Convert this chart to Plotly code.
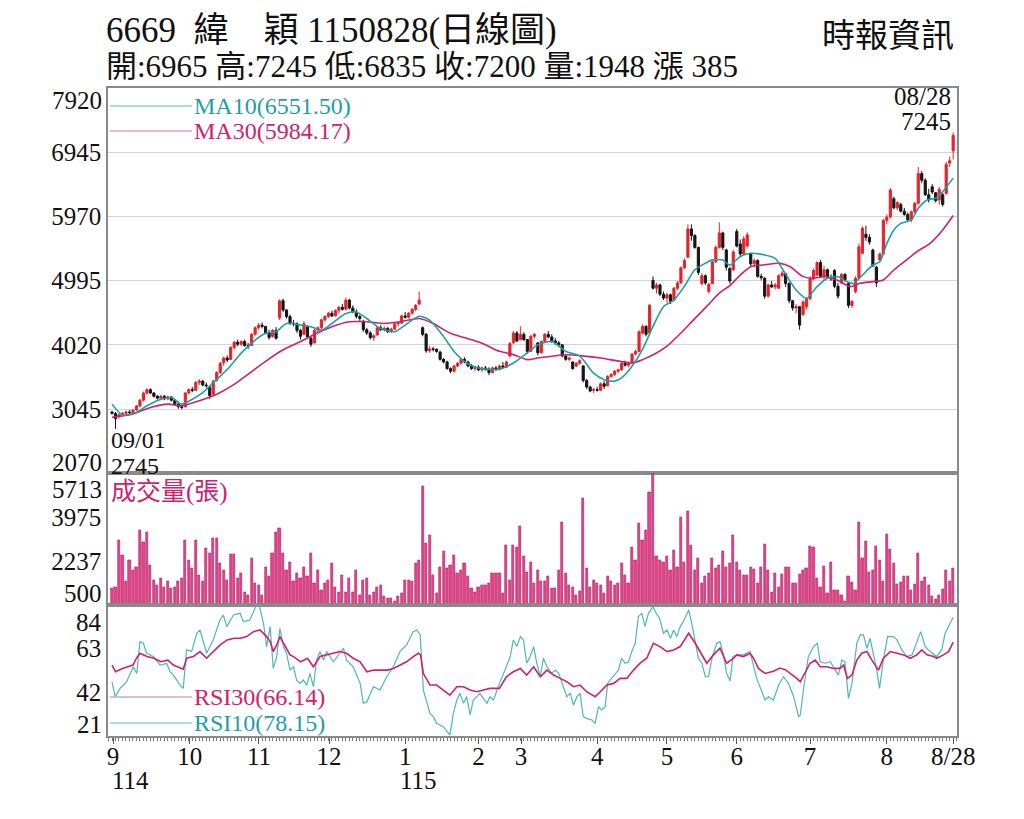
import plotly.graph_objects as go

# ---------------- data ----------------
opens = [3000, 2980, 2930, 2960, 2980, 3000, 2990, 3030, 3090, 3180,
         3290, 3340, 3290, 3240, 3210, 3240, 3200, 3230, 3180, 3120,
         3080, 3080, 3290, 3340, 3330, 3450, 3470, 3410, 3380, 3270,
         3480, 3600, 3750, 3820, 3800, 3980, 4060, 4030, 4070, 4010,
         4010, 4180, 4280, 4320, 4300, 4200, 4150, 4240, 4430, 4690,
         4550, 4450, 4350, 4340, 4240, 4180, 4300, 4120, 4050, 4240,
         4280, 4400, 4450, 4500, 4460, 4540, 4590, 4560, 4700, 4580,
         4520, 4450, 4380, 4250, 4200, 4130, 4170, 4280, 4250, 4270,
         4220, 4260, 4340, 4350, 4460, 4440, 4500, 4560, 4640, 4280,
         4180, 3930, 3960, 3950, 3910, 3800, 3760, 3660, 3620, 3700,
         3740, 3800, 3760, 3700, 3660, 3680, 3640, 3670, 3650, 3600,
         3670, 3650, 3700, 3680, 3850, 4050, 4200, 4100, 4180, 4100,
         3920, 4150, 4050, 3900, 4070, 4180, 4140, 4080, 4050, 4020,
         3850, 3800, 3760, 3700, 3740, 3700, 3480, 3380, 3330, 3340,
         3330, 3430, 3400, 3540, 3570, 3620, 3640, 3740, 3710, 3750,
         3880, 3920, 4200, 4300, 4200, 5000, 4880, 4930, 4790, 4730,
         4780, 4700, 4880, 4960, 5190, 5350, 5780, 5680, 5500, 4950,
         5070, 4830, 4950, 5280, 5500, 5720, 5460, 5180, 5160, 5740,
         5550, 5400, 5520, 5400, 5250, 5300, 5060, 5030, 4760, 4930,
         4900, 4880, 5070, 5100, 4950, 4690, 4580, 4600, 4480, 4600,
         4720, 5020, 5080, 5270, 5060, 5160, 5050, 5150, 4910, 4960,
         5090, 4950, 4620, 4830, 5030, 5410, 5700, 5650, 5460, 5200,
         5310, 5400, 5910, 5960, 6240, 6100, 6150, 6050, 6000, 5920,
         6040, 6170, 6620, 6520, 6300, 6420, 6330, 6220, 6300, 6320,
         6780, 6965]
highs = [3020, 3000, 2980, 3000, 3020, 3030, 3040, 3110, 3200, 3310,
         3360, 3360, 3300, 3260, 3260, 3260, 3250, 3240, 3200, 3160,
         3110, 3300, 3360, 3380, 3470, 3500, 3490, 3450, 3400, 3490,
         3620, 3760, 3840, 3860, 4000, 4080, 4100, 4090, 4100, 4050,
         4200, 4300, 4350, 4360, 4310, 4250, 4260, 4290, 4710, 4720,
         4560, 4480, 4400, 4360, 4260, 4380, 4320, 4140, 4260, 4300,
         4420, 4470, 4520, 4540, 4560, 4610, 4640, 4740, 4720, 4620,
         4560, 4480, 4400, 4280, 4230, 4180, 4300, 4320, 4300, 4290,
         4280, 4360, 4380, 4480, 4520, 4520, 4580, 4640, 4830, 4300,
         4200, 4000, 3990, 3970, 3930, 3820, 3780, 3680, 3720, 3760,
         3820, 3830, 3780, 3730, 3700, 3710, 3690, 3700, 3680, 3690,
         3700, 3720, 3760, 3780, 4060, 4230, 4230, 4300, 4210, 4110,
         4170, 4200, 4060, 4090, 4200, 4230, 4180, 4120, 4080, 4030,
         3880, 3840, 3770, 3760, 3800, 3710, 3500, 3400, 3370, 3380,
         3450, 3470, 3560, 3590, 3640, 3660, 3760, 3780, 3760, 3900,
         3950, 4240, 4330, 4320, 4640, 5060, 4960, 4950, 4830, 4810,
         4800, 4900, 4990, 5210, 5330, 5850, 5850, 5700, 5510, 5110,
         5090, 4960, 5300, 5530, 5880, 5740, 5480, 5200, 5460, 5780,
         5620, 5670, 5730, 5420, 5330, 5320, 5100, 5050, 4950, 4990,
         4960, 5090, 5140, 5110, 4970, 4700, 4640, 4610, 4700, 4740,
         5060, 5180, 5290, 5310, 5220, 5180, 5090, 5170, 4960, 5110,
         5110, 4970, 4700, 5060, 5560, 5820, 5830, 5700, 5480, 5220,
         5420, 5930, 6000, 6400, 6270, 6200, 6180, 6100, 6030, 6060,
         6190, 6720, 6660, 6550, 6390, 6460, 6340, 6420, 6330, 6800,
         6880, 7245]
lows = [2960, 2745, 2900, 2930, 2950, 2970, 2970, 3020, 3070, 3160,
        3260, 3270, 3220, 3190, 3190, 3180, 3180, 3160, 3100, 3050,
        3040, 3070, 3270, 3300, 3320, 3410, 3390, 3370, 3200, 3260,
        3460, 3580, 3700, 3760, 3790, 3950, 4000, 4000, 3990, 3960,
        4000, 4160, 4250, 4270, 4180, 4100, 4130, 4100, 4400, 4520,
        4420, 4320, 4300, 4200, 4100, 4170, 4120, 3990, 4040, 4200,
        4260, 4370, 4430, 4440, 4450, 4500, 4540, 4550, 4560, 4500,
        4420, 4380, 4220, 4170, 4100, 4080, 4160, 4230, 4220, 4200,
        4200, 4240, 4300, 4340, 4420, 4420, 4480, 4530, 4620, 4150,
        3900, 3900, 3920, 3900, 3780, 3740, 3640, 3590, 3600, 3680,
        3720, 3740, 3680, 3640, 3620, 3620, 3610, 3630, 3560, 3590,
        3620, 3630, 3660, 3670, 3830, 4040, 4060, 4090, 4080, 3880,
        3910, 4120, 3860, 3890, 4050, 4120, 4050, 4020, 3990, 3830,
        3780, 3770, 3640, 3680, 3720, 3450, 3350, 3300, 3290, 3310,
        3320, 3350, 3390, 3520, 3550, 3590, 3630, 3690, 3680, 3740,
        3860, 3910, 4180, 4150, 4190, 4860, 4800, 4760, 4700, 4660,
        4640, 4680, 4850, 4950, 5170, 5340, 5600, 5480, 5080, 4920,
        4930, 4800, 4940, 5260, 5480, 5460, 5150, 4950, 5140, 5500,
        5350, 5380, 5500, 5200, 5200, 5040, 5000, 4720, 4740, 4880,
        4860, 4870, 5050, 4900, 4650, 4540, 4500, 4250, 4460, 4560,
        4700, 5000, 5060, 5040, 5000, 5020, 4990, 4880, 4720, 4940,
        4980, 4580, 4580, 4800, 5010, 5400, 5600, 5540, 5200, 4900,
        5290, 5380, 5850, 5940, 6080, 6070, 6030, 5980, 5890, 5880,
        6020, 6150, 6480, 6280, 6180, 6310, 6180, 6150, 6120, 6300,
        6720, 6835]
closes = [2980, 2900, 2960, 2980, 3000, 2990, 3030, 3090, 3180, 3290,
          3340, 3290, 3240, 3210, 3240, 3200, 3230, 3180, 3120, 3080,
          3070, 3290, 3340, 3330, 3450, 3470, 3410, 3400, 3250, 3470,
          3600, 3740, 3820, 3790, 3980, 4060, 4030, 4070, 4010, 4000,
          4180, 4280, 4320, 4300, 4200, 4130, 4240, 4120, 4690, 4550,
          4450, 4350, 4340, 4240, 4150, 4340, 4140, 4030, 4240, 4280,
          4400, 4450, 4500, 4460, 4540, 4590, 4560, 4700, 4580, 4520,
          4450, 4420, 4250, 4200, 4130, 4160, 4280, 4250, 4270, 4220,
          4260, 4340, 4350, 4460, 4440, 4500, 4560, 4620, 4700, 4180,
          3930, 3960, 3950, 3920, 3800, 3760, 3660, 3620, 3700, 3740,
          3800, 3760, 3700, 3660, 3680, 3640, 3670, 3650, 3600, 3670,
          3650, 3700, 3680, 3760, 4040, 4200, 4080, 4180, 4100, 3920,
          4150, 4180, 3900, 4070, 4180, 4140, 4080, 4050, 4020, 3850,
          3800, 3820, 3660, 3740, 3780, 3480, 3380, 3320, 3340, 3330,
          3430, 3390, 3540, 3570, 3620, 3640, 3740, 3710, 3750, 3880,
          3920, 4220, 4300, 4180, 4620, 4880, 4930, 4790, 4730, 4780,
          4680, 4880, 4960, 5190, 5300, 5780, 5680, 5500, 5120, 5070,
          4960, 4940, 5280, 5500, 5720, 5500, 5200, 4990, 5430, 5520,
          5400, 5630, 5690, 5250, 5300, 5060, 5040, 4760, 4930, 4900,
          4930, 5070, 5110, 4950, 4690, 4580, 4600, 4320, 4670, 4720,
          5020, 5150, 5270, 5060, 5160, 5050, 5020, 4910, 4760, 5090,
          5000, 4620, 4680, 5030, 5510, 5790, 5650, 5580, 5220, 4960,
          5400, 5910, 5960, 6370, 6100, 6180, 6050, 6000, 5920, 6040,
          6170, 6620, 6520, 6300, 6220, 6340, 6210, 6380, 6150, 6760,
          6815, 7200]
volumes = [1160, 1220, 3070, 2470, 1420, 2270, 1880, 2010, 3460, 2990,
           3360, 2080, 1490, 1290, 1550, 1220, 1420, 1160, 1220, 1420,
           1550, 3070, 2270, 1950, 3070, 1680, 1420, 2730, 2530, 3130,
           3130, 2150, 1880, 1490, 2510, 2510, 1550, 1750, 1020, 900,
           2340, 1360, 1290, 900, 2010, 1620, 2530, 3390, 3520, 2530,
           1880, 2210, 1420, 1750, 1550, 2010, 1620, 2530, 1360, 1880,
           1090, 1360, 1490, 2150, 1220, 1020, 1680, 1020, 1550, 1020,
           1880, 900, 1490, 1550, 900, 1020, 1220, 1290, 830, 760,
           760, 640, 830, 960, 1490, 1490, 1420, 2150, 2270, 5210,
           2930, 3260, 1680, 960, 2010, 2610, 1950, 2080, 2470, 1750,
           1880, 2150, 1620, 1160, 1020, 1220, 1290, 1290, 1360, 1750,
           1750, 1750, 960, 2870, 1490, 2870, 2800, 3600, 2410, 1810,
           2210, 1360, 1890, 1420, 1420, 1620, 1160, 1160, 1890, 3790,
           1750, 1290, 1220, 900, 1030, 4710, 1950, 1220, 1490, 1360,
           1290, 960, 1620, 1420, 1290, 1360, 2150, 1690, 1360, 2800,
           2280, 3720, 3070, 3460, 4970, 5713, 2410, 2280, 2210, 2410,
           1890, 2670, 2010, 3990, 2210, 4190, 2870, 1890, 2350, 1360,
           1620, 1750, 2350, 1950, 2080, 2610, 2010, 2150, 3250, 2210,
           1890, 1690, 1690, 2010, 1910, 1360, 2010, 2910, 1890, 990,
           1750, 1220, 1720, 1980, 1980, 1360, 1360, 1720, 1860, 1950,
           2830, 2780, 1550, 1220, 2040, 960, 2210, 1070, 1070, 900,
           640, 1620, 1380, 1090, 3790, 2350, 3030, 1780, 1890, 2830,
           2260, 1420, 3310, 2700, 2170, 1320, 1380, 1620, 1640, 1090,
           1330, 2540, 1420, 1580, 1270, 860, 740, 900, 1130, 1860,
           1450, 1948]

ma10_idx = [0, 3, 7, 10, 14, 17, 20, 23, 26, 29, 33, 37, 40.5, 44, 47, 50, 54, 57,
            60, 63, 67, 70, 73, 77, 81, 84, 88, 91, 95, 98, 101.6, 105, 111, 115,
            119, 122, 126, 130, 134, 138, 141, 144, 146, 149, 152, 155, 158, 161,
            164, 167, 170, 172, 175, 177, 180, 183, 187, 190, 192, 196, 199, 202,
            205, 208, 210.5, 212.5, 215, 218, 220, 222, 224, 226, 229, 231, 233.5,
            236, 238, 241]
ma10_val = [3120, 2955, 2995, 3095, 3195, 3220, 3120, 3195, 3295, 3445, 3645, 3895,
            4070, 4195, 4220, 4345, 4320, 4295, 4245, 4345, 4495, 4520, 4420, 4270,
            4220, 4320, 4455, 4395, 4145, 3920, 3745, 3670, 3650, 3745, 3900, 4020,
            4070, 3920, 3850, 3590, 3490, 3470, 3520, 3695, 3950, 4300, 4600, 4700,
            4910, 5160, 5260, 5310, 5310, 5230, 5360, 5410, 5385, 5334, 5180, 4853,
            4727, 4904, 5030, 5055, 4980, 4950, 5080, 5233, 5283, 5560, 5764, 5865,
            5916, 6093, 6220, 6245, 6346, 6551.5]
ma30_idx = [0, 6, 11, 16, 20, 25, 30, 35, 39.5, 44, 49, 54, 58.6, 63, 68, 73, 78,
            82.5, 88, 92, 97, 101.6, 106, 111, 115, 119, 122, 130, 136, 140, 145.6,
            149, 152, 156, 159, 163, 166.6, 170.4, 174, 177, 180, 183, 186.6, 191.4,
            194.3, 198, 201, 204, 207.7, 211.5, 214.3, 218, 221, 224, 227, 230.6,
            234.4, 238, 241]
ma30_val = [2920, 2970, 3070, 3120, 3095, 3170, 3270, 3420, 3595, 3770, 3945, 4070,
            4195, 4295, 4370, 4370, 4345, 4370, 4420, 4345, 4195, 4120, 4045, 3922,
            3872, 3796, 3820, 3870, 3846, 3820, 3770, 3745, 3796, 3897, 4000, 4200,
            4400, 4604, 4806, 4920, 5080, 5207, 5233, 5258, 5207, 5056, 5030, 5055,
            5005, 4904, 4955, 4980, 5005, 5157, 5283, 5435, 5562, 5764, 5984.17]

rsi30_idx = [0, 1, 3, 6, 7, 8, 10, 12, 14, 16, 17.6, 19.5, 20.4, 21.4, 23.3, 25.2,
             27.1, 29, 31, 33, 35, 36.7, 38.6, 40.5, 42.4, 44.3, 45.3, 46.2, 47.2,
             48.1, 49.1, 50, 51, 52, 54, 56, 57.7, 59.6, 61.5, 63.4, 65.3, 67.2,
             69.1, 71.1, 73, 75, 77, 79, 80.6, 82.5, 84.4, 86.3, 87.8, 88.4, 89.2,
             91.1, 93, 94.9, 96.8, 98.8, 100.7, 102.6, 104.5, 106.4, 108.3, 110.2,
             111, 113, 115, 117, 118.8, 120.8, 122.7, 124.6, 126.5, 128.4, 130.3,
             132.2, 134.1, 136, 138.4, 139.9, 141.8, 143.7, 145.6, 147.5, 149.4,
             151.3, 153.2, 155.1, 157, 159, 160.9, 162.8, 165.2, 167.1, 168.5,
             170.4, 172.3, 174.2, 176.1, 178.1, 179, 180.9, 182.8, 183.8, 185.2,
             187.1, 189.5, 191.4, 192.9, 194.3, 196.2, 197.2, 198.6, 200, 201.5,
             202.9, 204.8, 206.7, 208.6, 209.6, 210.7, 212, 213.4, 214.8, 216.3,
             217.7, 219.6, 221, 223, 224.9, 226.8, 228.7, 230.6, 232, 233.5, 235.4,
             236.3, 238.2, 239.7, 241]
rsi30_val = [55.1, 51.9, 53.5, 55.1, 58.4, 60.8, 59.2, 58.4, 56.7, 57.5, 55.1, 53.5,
             53.1, 58.4, 59.2, 61.6, 58.4, 61.6, 64.8, 67.2, 68.0, 68.0, 68.8, 71.2,
             72.0, 68.8, 66.4, 61.6, 64.8, 68.8, 65.6, 63.2, 60.0, 59.2, 56.7, 58.4,
             54.3, 59.2, 60.0, 60.8, 61.6, 60.8, 58.4, 56.7, 51.9, 52.7, 52.7, 52.7,
             53.5, 55.1, 56.7, 59.2, 60.8, 60.0, 51.1, 45.5, 45.5, 43.1, 40.7, 44.7,
             44.7, 43.1, 42.3, 43.1, 43.9, 43.9, 43.9, 49.5, 51.9, 53.5, 50.3, 54.3,
             49.5, 52.7, 50.3, 48.7, 47.1, 44.7, 45.5, 42.3, 39.9, 42.3, 45.5, 46.3,
             48.7, 48.7, 52.7, 56.0, 58.4, 65.6, 64.0, 61.6, 62.4, 64.0, 70.4, 65.6,
             61.6, 56.0, 60.0, 63.2, 56.0, 58.4, 60.0, 59.2, 60.8, 58.4, 53.5, 51.1,
             52.1, 53.7, 52.9, 51.3, 48.7, 47.1, 51.3, 56.0, 57.5, 54.3, 54.3, 53.5,
             53.5, 55.1, 48.7, 50.3, 57.5, 60.8, 61.6, 57.5, 52.7, 58.4, 61.6, 60.8,
             60.0, 58.4, 60.0, 62.4, 60.0, 59.2, 58.4, 60.0, 61.6, 66.14]

rsi10_idx = [0, 0.9, 2.3, 4.2, 6.1, 7.1, 8, 9, 9.9, 11.8, 13.8, 15.7, 16.6, 17.6,
             19.5, 20.4, 21.4, 22.8, 24.3, 25.2, 27.1, 29, 30.9, 31.9, 32.9, 34.8,
             36.7, 37.6, 39.5, 41, 41.9, 43.4, 44.3, 45.3, 46.2, 47.2, 48.1, 49.1,
             50, 51, 52, 52.9, 53.9, 54.8, 55.8, 56.7, 57.7, 58.6, 59.6, 60.6, 61.5,
             63.4, 65.3, 66.3, 67.2, 69.1, 71.1, 72, 73, 74.9, 76.8, 78.7, 80.6,
             82.5, 84.4, 86.3, 87.3, 88.3, 89.2, 90.2, 91.1, 92.1, 93, 94.9, 96.8,
             97.8, 98.8, 99.7, 100.7, 101.6, 102.6, 103.5, 105.4, 107.4, 108.3,
             109.3, 111, 112.6, 114.1, 115, 116, 117, 117.9, 118.8, 119.8, 120.8,
             121.7, 122.7, 123.6, 124.6, 126, 127, 128, 129.3, 130.3, 131.3, 132.2,
             133.2, 134.1, 135, 136, 137.5, 138.4, 139.4, 140.3, 141.3, 142, 142.7,
             144.2, 145.1, 146, 147, 148, 148.9, 149.9, 150.8, 151.8, 152.7, 153.7,
             155, 155.9, 156.9, 158, 159, 160, 160.9, 161.8, 162.8, 163.7, 165.2,
             166.1, 167.1, 168, 169, 170, 170.9, 172, 173.3, 174.2, 175.2, 176.1,
             177.1, 177.9, 179, 180.9, 182.8, 183.8, 184.7, 186.2, 187.1, 188.1,
             189.5, 191, 192.4, 193.8, 195.3, 196.7, 197.2, 198.1, 199.5, 201,
             202.1, 202.9, 204.3, 205.8, 207.2, 208.1, 209.1, 210, 211, 212, 213.4,
             214.4, 215.3, 216.3, 217.2, 218.2, 219.1, 219.9, 221, 222.2, 223.9,
             224.9, 226.3, 227.7, 229.2, 230.1, 231.7, 233, 234.4, 236.3, 237.7,
             238.7, 239.7, 241]
rsi10_val = [47.1, 39.9, 43.9, 47.1, 54.3, 51.1, 66.4, 65.6, 60.8, 59.2, 55.1, 55.9,
             51.9, 50.3, 45.5, 43.9, 62.4, 61.6, 70.4, 72.0, 60.8, 67.2, 76.8, 79.2,
             73.6, 79.2, 80.0, 76.0, 76.8, 83.2, 86.0, 75.2, 64.0, 73.6, 53.5, 59.2,
             72.8, 64.0, 60.8, 52.7, 54.3, 47.9, 46.3, 47.9, 45.5, 51.1, 44.7, 57.5,
             61.6, 57.5, 61.6, 56.7, 60.8, 63.2, 57.5, 54.3, 46.3, 36.7, 37.5, 44.7,
             43.1, 49.5, 54.3, 61.6, 64.8, 71.2, 72.0, 69.6, 43.1, 36.7, 31.9, 30.3,
             27.1, 25.5, 21.5, 31.9, 38.3, 41.5, 36.7, 39.9, 31.1, 38.3, 41.5, 36.7,
             39.9, 38.3, 46.3, 52.7, 59.2, 67.2, 64.0, 68.8, 67.2, 56.0, 59.2, 64.0,
             56.0, 49.5, 58.4, 54.3, 51.1, 52.7, 51.1, 44.7, 39.9, 41.5, 35.9, 39.9,
             41.5, 30.3, 29.5, 28.7, 27.1, 35.1, 33.5, 35.1, 46.3, 47.9, 51.1, 52.7,
             58.4, 56.0, 56.7, 61.6, 65.6, 78.4, 80.0, 73.6, 80.0, 83.2, 80.0, 77.6,
             70.4, 72.0, 68.0, 72.0, 68.8, 73.6, 76.0, 81.6, 75.2, 67.2, 58.4, 56.0,
             49.5, 49.5, 59.2, 65.6, 66.4, 60.0, 51.1, 47.5, 59.2, 60.0, 60.0, 61.6,
             54.3, 48.7, 42.3, 38.3, 39.9, 38.3, 45.5, 49.5, 46.3, 39.9, 30.3, 31.1,
             43.1, 59.2, 64.0, 65.6, 56.7, 56.0, 56.7, 53.1, 50.3, 57.5, 56.7, 39.1,
             46.3, 65.6, 69.6, 69.6, 63.2, 68.0, 60.0, 52.7, 43.9, 57.5, 68.8, 68.8,
             67.2, 62.4, 59.2, 60.0, 64.0, 71.2, 64.0, 61.6, 59.2, 62.4, 70.4, 73.6,
             78.15]

month_pos = [0.3, 22.3, 42.1, 62.2, 84, 105, 117.2, 139, 159, 179, 200, 222, 241]
month_txt = ["9", "10", "11", "12", "1", "2", "3", "4", "5", "6", "7", "8", "8/28"]

price_ticks = [3045, 4020, 4995, 5970, 6945]
vol_ticks = [2237, 3975]
rsi_ticks = [42, 63]

days = list(range(len(closes)))

# ---------------- styling ----------------
TEAL = "#1f9ea8"
MAG = "#d0206e"
SERIF = "Liberation Serif, Noto Sans CJK TC, serif"
AX = "#8a8a8a"

L, R, T, B = 108, 957, 88, 736
W, H = 1024, 819


def pxx(x):
    return (x - L) / (R - L)


def pxy(y):
    return (B - y) / (B - T)


fig = go.Figure()

fig.add_trace(go.Candlestick(
    x=days, open=opens, high=highs, low=lows, close=closes,
    increasing=dict(line=dict(color="#e5232b", width=1), fillcolor="#e5232b"),
    decreasing=dict(line=dict(color="#151515", width=1), fillcolor="#151515"),
    whiskerwidth=0, xaxis="x", yaxis="y", showlegend=False, hoverinfo="skip"))
fig.add_trace(go.Scatter(x=ma30_idx, y=ma30_val, mode="lines",
                         line=dict(color=MAG, width=1.6, shape="spline", smoothing=0.7),
                         xaxis="x", yaxis="y", showlegend=False))
fig.add_trace(go.Scatter(x=ma10_idx, y=ma10_val, mode="lines",
                         line=dict(color=TEAL, width=1.6, shape="spline", smoothing=0.7),
                         xaxis="x", yaxis="y", showlegend=False))

fig.add_trace(go.Bar(x=days, y=volumes, width=0.62,
                     marker=dict(color="#e4468b", line=dict(color="#b3135a", width=0.6)),
                     xaxis="x2", yaxis="y2", showlegend=False))

fig.add_trace(go.Scatter(x=rsi10_idx, y=rsi10_val, mode="lines",
                         line=dict(color="#4fb6bc", width=1.2),
                         xaxis="x3", yaxis="y3", showlegend=False))
fig.add_trace(go.Scatter(x=rsi30_idx, y=rsi30_val, mode="lines",
                         line=dict(color=MAG, width=1.6),
                         xaxis="x3", yaxis="y3", showlegend=False))

xr = [-1.15, 242.1]
d_price = [pxy(473.3), 1]
d_vol = [pxy(605), pxy(473.3)]
d_rsi = [0, pxy(605)]

common_x = dict(range=xr, showgrid=False, zeroline=False, showline=True, mirror=True,
                linecolor=AX, linewidth=1.5)
common_y = dict(zeroline=False, showline=True, mirror=True,
                linecolor=AX, linewidth=1.5, ticks="",
                tickfont=dict(family=SERIF, size=25, color="#111"))

fig.update_layout(
    width=W, height=H,
    margin=dict(l=L, r=W - R, t=T, b=H - B, pad=0),
    paper_bgcolor="white", plot_bgcolor="white",
    bargap=0, boxgap=0.12,
    xaxis=dict(**common_x, anchor="y", domain=[0, 1], showticklabels=False,
               rangeslider=dict(visible=False)),
    xaxis2=dict(**common_x, anchor="y2", domain=[0, 1], showticklabels=False, matches="x"),
    xaxis3=dict(**common_x, anchor="y3", domain=[0, 1], matches="x",
                tickmode="array", tickvals=month_pos, ticktext=month_txt,
                ticks="outside", ticklen=6, tickcolor="#555", tickwidth=1.2,
                ticklabelstandoff=-9,
                minor=dict(ticks="outside", dtick=1, tick0=0, ticklen=3,
                           tickcolor="#777", tickwidth=1),
                tickfont=dict(family=SERIF, size=25, color="#111")),
    yaxis=dict(**common_y, domain=d_price, range=[2070, 7920], tickmode="array",
               tickvals=price_ticks, showgrid=True, gridcolor="#d4d4d4", gridwidth=1),
    yaxis2=dict(**common_y, domain=d_vol, range=[500, 5713], tickmode="array",
                tickvals=vol_ticks, showgrid=False),
    yaxis3=dict(**common_y, domain=d_rsi, range=[21, 84], tickmode="array",
                tickvals=rsi_ticks, showgrid=False),
)

anns = []


def ann(text, x, y, size, color="#111", xanchor="left", yanchor="middle"):
    anns.append(dict(text=text, x=pxx(x), y=pxy(y), xref="paper", yref="paper",
                     xanchor=xanchor, yanchor=yanchor, showarrow=False,
                     font=dict(family=SERIF, size=size, color=color)))


# titles
ann("6669  緯　穎 1150828(日線圖)", 104, 30, 35)
ann("開:6965 高:7245 低:6835 收:7200 量:1948 漲 385", 104, 67, 31)
ann("時報資訊", 956, 36, 33, xanchor="right")
# edge tick labels
ann("7920", 104, 101, 25, xanchor="right")
ann("2070", 104, 462, 25, xanchor="right")
ann("5713", 104, 489, 25, xanchor="right")
ann("500", 104, 593, 25, xanchor="right")
ann("84", 104, 622, 25, xanchor="right")
ann("21", 104, 724, 25, xanchor="right")
# year labels
ann("114", 110, 780, 25)
ann("115", 398, 780, 25)
# price notes
ann("09/01", 109, 440, 24)
ann("2745", 109, 466, 24)
ann("08/28", 953, 96, 25, xanchor="right")
ann("7245", 953, 121, 25, xanchor="right")
# legends
ann("MA10(6551.50)", 192, 106, 24, TEAL)
ann("MA30(5984.17)", 192, 131, 24, MAG)
ann("成交量(張)", 109, 492, 25, MAG)
ann("RSI30(66.14)", 192, 697, 24, MAG)
ann("RSI10(78.15)", 192, 723, 24, TEAL)
fig.update_layout(annotations=anns)

shapes = []
for yy, col in [(106, "#8fd0d3"), (131, "#d9a6bd"), (697, "#d9a6bd"), (723, "#8fd0d3")]:
    shapes.append(dict(type="line", xref="paper", yref="paper",
                       x0=pxx(110), x1=pxx(192), y0=pxy(yy), y1=pxy(yy),
                       line=dict(color=col, width=1.5)))
fig.update_layout(shapes=shapes)

fig.write_html("out.html", config={"displayModeBar": False},
               post_script="document.body.style.margin='0px';document.body.style.overflow='hidden';")
